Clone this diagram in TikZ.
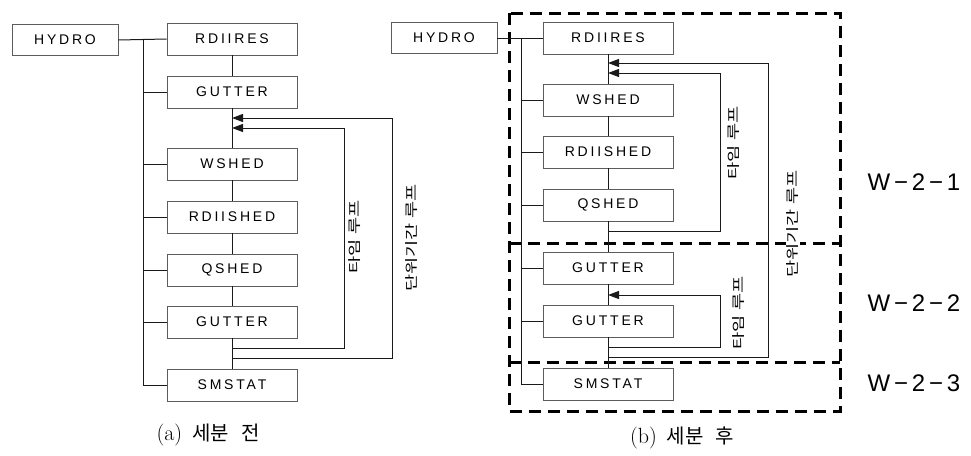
\documentclass[tikz,border=0pt]{standalone}
\usepackage{fontspec}
\usepackage{xcolor}
\usetikzlibrary{arrows.meta}
\newfontfamily\boxfont[LetterSpace=20]{Liberation Sans}
\newfontfamily\zonefont[LetterSpace=16]{Liberation Sans}
\newfontfamily\korfont{Noto Sans CJK KR}
\newfontfamily\capfont{Noto Sans CJK KR}
% stretched loop names: total length along the text, then the text
\newcommand{\loopname}[2]{\resizebox*{#1}{12pt}{#2}}
\definecolor{bk90}{HTML}{1A1A1A}
\definecolor{bk70}{HTML}{5C5C5C}
\tikzset{
  modbox/.style={
    rectangle, draw=bk70, line width=0.6pt,
    minimum width=130pt, minimum height=32pt,
    inner sep=0pt, font=\boxfont\fontsize{14}{16}\selectfont
  },
  srcbox/.style={modbox, minimum width=106pt, minimum height=31pt},
  busline/.style={line width=1pt, color=bk90},
  looparrow/.style={
    -{Triangle[length=11pt,width=8pt]}, line width=1pt, color=bk90
  },
  zoneline/.style={line width=3pt, dash pattern=on 12pt off 7pt},
  looplabel/.style={
    rotate=90, inner sep=1pt,
    font=\korfont\fontsize{12}{14}\selectfont
  },
  zonelabel/.style={anchor=west, font=\zonefont\fontsize{24}{26}\selectfont},
  captext/.style={font=\fontsize{22}{24}\selectfont},
}
\begin{document}
\begin{tikzpicture}[x=1pt, y=-1pt]
  \useasboundingbox (0,0) rectangle (971,455);

  % ── (a) before subdivision ──
  \node[srcbox] (hydroa) at (65,40) {HYDRO};
  \node[modbox] (rdiiresa) at (232,39) {RDIIRES};
  \node[modbox] (gutta) at (232,92) {GUTTER};
  \node[modbox] (wsheda) at (232,164) {WSHED};
  \node[modbox] (rdiisheda) at (232,217) {RDIISHED};
  \node[modbox] (qsheda) at (232,270) {QSHED};
  \node[modbox] (guttb) at (232,322) {GUTTER};
  \node[modbox] (smstata) at (232,385) {SMSTAT};

  \coordinate (busa) at (143,40);
  \draw[busline] (hydroa.east) -- (rdiiresa.west);
  \draw[busline] (busa) |- (smstata.west);
  \draw[busline] (busa |- gutta.west) -- (gutta.west);
  \draw[busline] (busa |- wsheda.west) -- (wsheda.west);
  \draw[busline] (busa |- rdiisheda.west) -- (rdiisheda.west);
  \draw[busline] (busa |- qsheda.west) -- (qsheda.west);
  \draw[busline] (busa |- guttb.west) -- (guttb.west);

  \draw[busline] (rdiiresa.south) -- (gutta.north);
  \draw[busline] (gutta.south) -- (wsheda.north);
  \draw[busline] (wsheda.south) -- (rdiisheda.north);
  \draw[busline] (rdiisheda.south) -- (qsheda.north);
  \draw[busline] (qsheda.south) -- (guttb.north);
  \draw[busline] (guttb.south) -- (smstata.north);

  \coordinate (tla-s) at (232,348);
  \coordinate (tla-e) at (232,128);
  \coordinate (ula-s) at (232,358);
  \coordinate (ula-e) at (232,118);
  \draw[looparrow] (tla-s) -- ++(112,0) |- (tla-e);
  \draw[looparrow] (ula-s) -- ++(160,0) |- (ula-e);
  \node[looplabel] (tlabela) at (355,237) {\loopname{73pt}{타임 루프}};
  \node[looplabel] (ulabela) at (412,238) {\loopname{107pt}{단위기간 루프}};

  \node[captext] (capa) at (208,435)
    {(a)\hspace{10pt}{\capfont\fontsize{20}{24}\selectfont 세분\hspace{12pt}전}};

  % ── (b) after subdivision ──
  \draw[zoneline] (509,13) rectangle (840,411);
  \draw[zoneline] (509,243) -- (840,243);
  \draw[zoneline] (509,362) -- (840,362);

  \node[srcbox] (hydrob) at (444,38) {HYDRO};
  \node[modbox] (rdiiresb) at (608,38) {RDIIRES};
  \node[modbox] (wshedb) at (608,100) {WSHED};
  \node[modbox] (rdiishedb) at (608,152) {RDIISHED};
  \node[modbox] (qshedb) at (608,205) {QSHED};
  \node[modbox] (guttc) at (608,268) {GUTTER};
  \node[modbox] (guttd) at (608,321) {GUTTER};
  \node[modbox] (smstatb) at (608,384) {SMSTAT};

  \coordinate (busb) at (521,38);
  \draw[busline] (hydrob.east) -- (rdiiresb.west);
  \draw[busline] (busb) |- (smstatb.west);
  \draw[busline] (busb |- wshedb.west) -- (wshedb.west);
  \draw[busline] (busb |- rdiishedb.west) -- (rdiishedb.west);
  \draw[busline] (busb |- qshedb.west) -- (qshedb.west);
  \draw[busline] (busb |- guttc.west) -- (guttc.west);
  \draw[busline] (busb |- guttd.west) -- (guttd.west);

  \draw[busline] (rdiiresb.south) -- (wshedb.north);
  \draw[busline] (wshedb.south) -- (rdiishedb.north);
  \draw[busline] (rdiishedb.south) -- (qshedb.north);
  \draw[busline] (qshedb.south) -- (guttc.north);
  \draw[busline] (guttc.south) -- (guttd.north);
  \draw[busline] (guttd.south) -- (smstatb.north);

  \coordinate (tlb-s) at (608,231);
  \coordinate (tlb-e) at (608,73);
  \coordinate (tlc-s) at (608,347);
  \coordinate (tlc-e) at (608,295);
  \coordinate (ulb-s) at (608,357);
  \coordinate (ulb-e) at (608,63);
  \draw[looparrow] (tlb-s) -- ++(112,0) |- (tlb-e);
  \draw[looparrow] (tlc-s) -- ++(112,0) |- (tlc-e);
  \draw[looparrow] (ulb-s) -- ++(160,0) |- (ulb-e);
  \node[looplabel] (tlabelb) at (734,143) {\loopname{73pt}{타임 루프}};
  \node[looplabel] (tlabelc) at (739,313) {\loopname{73pt}{타임 루프}};
  \node[looplabel, fill=white] (ulabelb) at (793,224)
    {\loopname{107pt}{단위기간 루프}};

  \node[zonelabel] (zone1) at (864,182) {W−2−1};
  \node[zonelabel] (zone2) at (864,303) {W−2−2};
  \node[zonelabel] (zone3) at (864,383) {W−2−3};

  \node[captext] (capb) at (682,438)
    {(b)\hspace{10pt}{\capfont\fontsize{20}{24}\selectfont 세분\hspace{12pt}후}};
\end{tikzpicture}
\end{document}
